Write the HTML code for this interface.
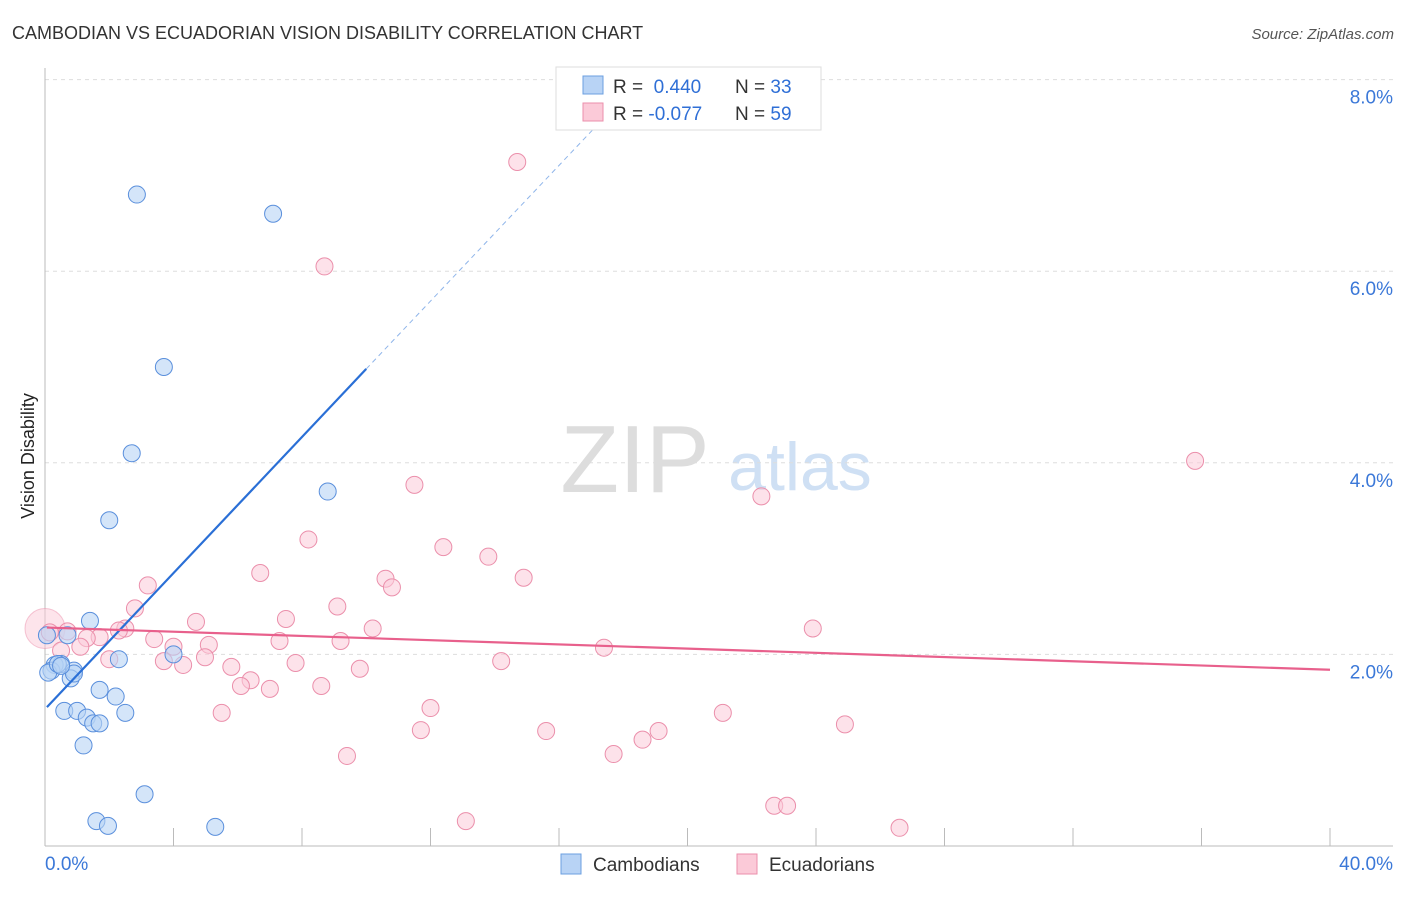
<!DOCTYPE html>
<html><head><meta charset="utf-8"><style>
body{margin:0;background:#fff;font-family:"Liberation Sans",sans-serif}
svg text{font-family:"Liberation Sans",sans-serif}
</style></head><body>
<svg id="c" width="1406" height="892">
<text x="12" y="39" font-size="18" fill="#333">CAMBODIAN VS ECUADORIAN VISION DISABILITY CORRELATION CHART</text>
<text x="1394" y="39" font-size="15" fill="#555" font-style="italic" text-anchor="end">Source: ZipAtlas.com</text>
<text x="635" y="492" font-size="96" fill="#ddd" font-family="Liberation Serif" text-anchor="middle">ZIP</text>
<text x="800" y="490" font-size="68" fill="#cfe0f4" text-anchor="middle">atlas</text>
<text transform="translate(34,456) rotate(-90)" font-size="18" fill="#222" text-anchor="middle">Vision Disability</text>
<g id="grid"></g><g id="pts"></g><g id="lines"></g>
<g>
<rect x="556" y="67" width="265" height="63" fill="#fff" stroke="#ddd"/>
<rect x="583" y="76" width="20" height="18" fill="#b8d3f5" stroke="#6b9fe0"/>
<rect x="583" y="103" width="20" height="18" fill="#fbcad8" stroke="#eb8fab"/>
<text x="613" y="93" font-size="19" fill="#333">R = <tspan fill="#2f6fd6">&#160;0.440</tspan><tspan x="735">N = </tspan><tspan fill="#2f6fd6">33</tspan></text>
<text x="613" y="120" font-size="19" fill="#333">R = <tspan fill="#2f6fd6">-0.077</tspan><tspan x="735">N = </tspan><tspan fill="#2f6fd6">59</tspan></text>
</g>
<g>
<rect x="561" y="854" width="20" height="20" fill="#b8d3f5" stroke="#6b9fe0"/>
<text x="593" y="871" font-size="19" fill="#333">Cambodians</text>
<rect x="737" y="854" width="20" height="20" fill="#fbcad8" stroke="#eb8fab"/>
<text x="769" y="871" font-size="19" fill="#333">Ecuadorians</text>
</g>
</svg>
<script>
const xTicks=[0,40];
const yTicks=[2,4,6,8];
const blueX=[2.86,7.1,3.7,2.7,8.8,2.0,1.4,0.7,0.06,2.3,4.0,0.5,0.3,0.2,0.9,0.8,1.7,2.2,0.6,1.0,1.3,1.5,1.7,2.5,1.2,3.1,1.6,1.960,5.3,0.1,0.4,0.9,0.5];
const blueY=[6.8,6.6,5.0,4.1,3.7,3.4,2.35,2.2,2.2,1.95,2.0,1.9,1.89,1.83,1.83,1.75,1.63,1.56,1.41,1.41,1.34,1.28,1.28,1.39,1.05,0.54,0.26,0.21,0.2,1.81,1.9,1.8,1.88];
const pinkX=[14.7,8.7,35.8,22.3,11.5,8.2,12.4,13.8,6.7,14.9,10.6,10.8,3.2,9.1,2.8,4.7,7.5,23.9,10.2,2.5,2.3,0.7,1.7,1.3,3.4,7.3,5.1,4.0,9.2,1.1,0.5,0.15,2.0,4.98,3.7,4.3,7.8,14.2,5.8,9.8,6.4,6.1,7.0,8.6,17.4,12.0,5.5,21.1,11.7,15.6,19.1,24.9,18.6,9.4,17.7,22.7,23.1,13.1,26.6];
const pinkY=[7.14,6.05,4.02,3.65,3.77,3.2,3.12,3.02,2.85,2.8,2.79,2.7,2.72,2.5,2.48,2.34,2.37,2.27,2.27,2.27,2.25,2.24,2.18,2.17,2.16,2.14,2.1,2.08,2.14,2.08,2.04,2.23,1.95,1.97,1.93,1.89,1.91,1.93,1.87,1.85,1.73,1.67,1.64,1.67,2.07,1.44,1.39,1.39,1.21,1.20,1.20,1.27,1.11,0.94,0.96,0.42,0.42,0.26,0.19];
const X0=45,X1=1330,Y0=846,PX=95.8;
const sx=v=>X0+(v/40)*(X1-X0), sy=v=>Y0-v*PX;
const NS="http://www.w3.org/2000/svg";
function mk(t,a,p){const e=document.createElementNS(NS,t);for(const k in a)e.setAttribute(k,a[k]);p.appendChild(e);return e;}
const grid=document.getElementById('grid');
yTicks.forEach(v=>{
 const l=mk('line',{x1:45,x2:1393,y1:sy(v),y2:sy(v),stroke:'#ddd','stroke-dasharray':'4,4'},grid);
 
 
 const t=mk('text',{x:1393,y:sy(v)+24,'font-size':19,fill:'#3b78d8','text-anchor':'end'},grid);t.textContent=v.toFixed(1)+'%';
 
 
});
mk('line',{x1:45,x2:45,y1:68,y2:846,stroke:'#bbb'},grid);
mk('line',{x1:45,x2:1393,y1:846,y2:846,stroke:'#bbb'},grid);
for(let i=0;i<=10;i++){mk('line',{x1:sx(i*4),x2:sx(i*4),y1:828,y2:846,stroke:'#bbb'},grid);}
xTicks.forEach((v,i)=>{const t=mk('text',{x:i?1393:45,y:870,'font-size':19,fill:'#3b78d8','text-anchor':i?'end':'start'},grid);t.textContent=v.toFixed(1)+'%';
 
 });
const pts=document.getElementById('pts');
const big=mk('circle',{cx:45,cy:sy(2.27),r:20,fill:'#fbcad8','fill-opacity':0.5,stroke:'#eb8fab','stroke-opacity':0.5},pts);


pinkX.forEach((v,i)=>{const c=mk('circle',{cx:sx(v),cy:sy(pinkY[i]),r:8.5,fill:'#fbcad8','fill-opacity':0.55,stroke:'#eb8fab'},pts);
 
 });
blueX.forEach((v,i)=>{const c=mk('circle',{cx:sx(v),cy:sy(blueY[i]),r:8.5,fill:'#b8d3f5','fill-opacity':0.6,stroke:'#5a8fdc'},pts);
 
 });
const L=document.getElementById('lines');
let a=mk('line',{x1:sx(0.06),y1:sy(1.45),x2:sx(10),y2:sy(4.98),stroke:'#2a6fd6','stroke-width':2.2},L);


a=mk('line',{x1:sx(10),y1:sy(4.98),x2:sx(17.4),y2:sy(7.6),stroke:'#8fb5ea','stroke-width':1,'stroke-dasharray':'5,4'},L);


a=mk('line',{x1:sx(0.06),y1:sy(2.28),x2:sx(40),y2:sy(1.84),stroke:'#e8608c','stroke-width':2.2},L);


</script>
</body></html>
